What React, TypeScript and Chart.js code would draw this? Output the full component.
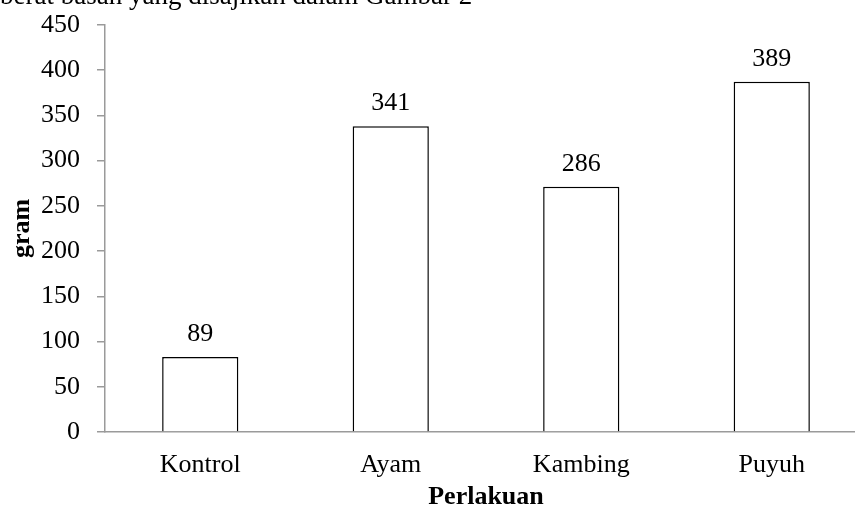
import React, { useEffect, useRef } from "react";
import { Chart, registerables } from "chart.js";

Chart.register(...registerables);

const categories = ["Kontrol", "Ayam", "Kambing", "Puyuh"];
const barValues = [83, 338, 271, 387];
const valueLabels = ["89", "341", "286", "389"];
const yTicks = [0, 50, 100, 150, 200, 250, 300, 350, 400, 450];
const xTitle = "Perlakuan";
const yTitle = "gram";
const topText = "berat basah yang disajikan dalam Gambar 2";

const FONT = "'Liberation Serif', 'Times New Roman', serif";

export default function App() {
  const ref = useRef<HTMLCanvasElement | null>(null);

  useEffect(() => {
    if (!ref.current) return;
    const labelPlugin = {
      id: "valueLabels",
      afterDatasetsDraw(chart: any) {
        const ctx = chart.ctx;
        const meta = chart.getDatasetMeta(0);
        ctx.save();
        ctx.font = `26px ${FONT}`;
        ctx.fillStyle = "#000";
        ctx.textAlign = "center";
        ctx.textBaseline = "alphabetic";
        meta.data.forEach((bar: any, i: number) => {
          ctx.fillText(valueLabels[i], bar.x, bar.y - 16);
        });
        ctx.restore();
      },
      afterDraw(chart: any) {
        const ctx = chart.ctx;
        ctx.save();
        ctx.font = `27px ${FONT}`;
        ctx.fillStyle = "#000";
        ctx.textAlign = "left";
        ctx.textBaseline = "alphabetic";
        ctx.fillText(topText, 0, 4);
        ctx.restore();
      },
    };

    const chart = new Chart(ref.current, {
      type: "bar",
      data: {
        labels: categories,
        datasets: [
          {
            data: barValues,
            backgroundColor: "#ffffff",
            borderColor: "#000000",
            borderWidth: 1.5,
            barPercentage: 0.4,
            categoryPercentage: 1,
          },
        ],
      },
      options: {
        responsive: false,
        animation: false,
        devicePixelRatio: 1,
        layout: { padding: { top: 22, left: 0, right: 0, bottom: 0 } },
        plugins: {
          legend: { display: false },
          tooltip: { enabled: false },
          title: { display: false },
        },
        scales: {
          x: {
            offset: true,
            afterFit(scale: any) {
              scale.height = 81;
            },
            grid: { display: false, drawTicks: false },
            border: { display: true, color: "#9a9a9a", width: 1.5 },
            ticks: {
              color: "#000",
              font: { family: FONT, size: 26 },
              padding: 18,
              maxRotation: 0,
            },
            title: {
              display: true,
              text: xTitle,
              color: "#000",
              font: { family: FONT, size: 26, weight: "bold" },
              padding: 0,
            },
          },
          y: {
            min: 0,
            max: 450,
            afterFit(scale: any) {
              scale.width = 105;
            },
            afterBuildTicks(scale: any) {
              scale.ticks = yTicks.map((v) => ({ value: v }));
            },
            grid: {
              drawOnChartArea: false,
              drawTicks: true,
              tickLength: 8,
              color: "#9a9a9a",
              lineWidth: 1.5,
            },
            border: { display: true, color: "#9a9a9a", width: 1.5 },
            ticks: {
              color: "#000",
              font: { family: FONT, size: 26, lineHeight: 0.6 },
              padding: 17,
            },
            title: {
              display: true,
              text: yTitle,
              color: "#000",
              font: { family: FONT, size: 26, weight: "bold" },
              padding: { top: 7, bottom: 0 },
            },
          },
        },
      },
      plugins: [labelPlugin],
    });
    return () => chart.destroy();
  }, []);

  return (
    <div
      style={{
        position: "fixed",
        left: 0,
        top: 0,
        width: 855,
        height: 513,
        overflow: "hidden",
        background: "#fff",
      }}
    >
      <canvas ref={ref} width={867} height={513} style={{ display: "block" }} />
    </div>
  );
}
